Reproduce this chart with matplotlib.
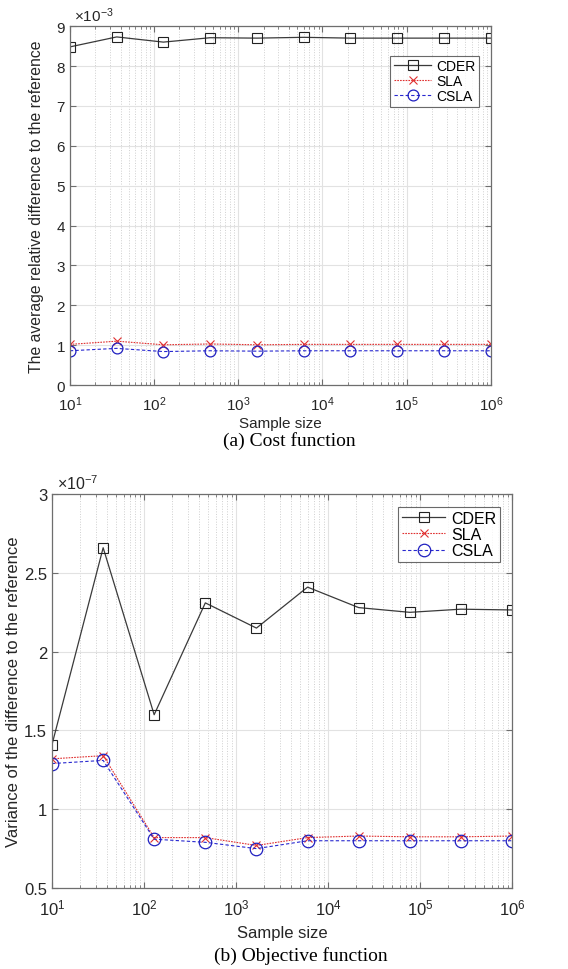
import matplotlib
matplotlib.use("Agg")
import matplotlib.pyplot as plt
from matplotlib.ticker import FuncFormatter, LogLocator, NullFormatter

plt.rcParams["font.family"] = ["Liberation Sans", "DejaVu Sans"]
plt.rcParams["mathtext.default"] = "regular"

# sample sizes (x axis, log scale)
sample_size = [10, 36, 129, 464, 1668, 5995, 21544, 77426, 278256, 1000000]

# (a) cost function: average relative difference to the reference
cost_cder = [8.48e-3, 8.73e-3, 8.60e-3, 8.71e-3, 8.70e-3, 8.72e-3, 8.70e-3, 8.70e-3, 8.70e-3, 8.70e-3]
cost_sla = [1.02e-3, 1.10e-3, 1.01e-3, 1.03e-3, 1.01e-3, 1.02e-3, 1.02e-3, 1.02e-3, 1.02e-3, 1.02e-3]
cost_csla = [0.86e-3, 0.92e-3, 0.84e-3, 0.86e-3, 0.85e-3, 0.86e-3, 0.86e-3, 0.86e-3, 0.86e-3, 0.86e-3]

# (b) objective function: variance of the difference to the reference
obj_cder = [1.41e-7, 2.66e-7, 1.60e-7, 2.31e-7, 2.15e-7, 2.41e-7, 2.28e-7, 2.25e-7, 2.27e-7, 2.265e-7]
obj_sla = [1.32e-7, 1.34e-7, 0.82e-7, 0.82e-7, 0.77e-7, 0.82e-7, 0.83e-7, 0.825e-7, 0.825e-7, 0.83e-7]
obj_csla = [1.29e-7, 1.31e-7, 0.81e-7, 0.79e-7, 0.75e-7, 0.80e-7, 0.80e-7, 0.80e-7, 0.80e-7, 0.80e-7]

series_names = ["CDER", "SLA", "CSLA"]
axis_col = "#6e6e6e"
text_col = "#262626"


def style_axes(ax, scale, yticks, fs):
    ax.set_xscale("log")
    ax.set_xlim(10, 1e6)
    ax.xaxis.set_major_locator(LogLocator(base=10, numticks=10))
    ax.xaxis.set_minor_locator(LogLocator(base=10, subs=range(2, 10), numticks=20))
    ax.xaxis.set_minor_formatter(NullFormatter())
    ax.set_yticks(yticks)
    ax.yaxis.set_major_formatter(FuncFormatter(lambda v, p: f"{v / scale:g}"))
    ax.set_ylim(yticks[0], yticks[-1])
    ax.grid(True, which="major", color="#e2e2e2", linewidth=0.8, linestyle="-")
    ax.grid(True, which="minor", axis="x", color="#cfcfcf", linewidth=0.7, linestyle=":")
    ax.set_axisbelow(True)
    ax.tick_params(which="both", direction="in", top=True, right=True,
                   color=axis_col, labelcolor=text_col, labelsize=fs)
    ax.tick_params(which="major", length=4)
    ax.tick_params(which="minor", length=2)
    ax.tick_params(axis="x", which="major", pad=7)
    for s in ax.spines.values():
        s.set_color(axis_col)
        s.set_linewidth(0.9)


def draw_series(ax, cder, sla, csla, ms):
    ax.plot(sample_size, cder, color="#3a3a3a", linewidth=0.9, marker="s",
            markersize=ms, markerfacecolor="none", markeredgecolor="#222222",
            markeredgewidth=0.8, label=series_names[0])
    ax.plot(sample_size, sla, color="#e03030", linewidth=0.8, linestyle=(0, (1.5, 1)),
            marker="x", markersize=ms * 0.8, markeredgewidth=0.8, label=series_names[1])
    ax.plot(sample_size, csla, color="#2828d0", linewidth=0.8, linestyle=(0, (3, 2)),
            marker="o", markersize=ms * 1.2, markerfacecolor="none",
            markeredgecolor="#2020c0", markeredgewidth=0.9, label=series_names[2])


def add_legend(ax, anchor, fs):
    leg = ax.legend(loc="upper right", bbox_to_anchor=anchor, fontsize=fs,
                    frameon=True, fancybox=False, handlelength=2.7, borderpad=0.25,
                    labelspacing=0.08, handletextpad=0.35, borderaxespad=0)
    leg.get_frame().set_edgecolor("#444444")
    leg.get_frame().set_linewidth(0.8)
    return leg


fig = plt.figure(figsize=(5.68, 9.70), dpi=100)

# (a) cost function
ax1 = fig.add_axes([0.123, 0.602, 0.741, 0.37])
draw_series(ax1, cost_cder, cost_sla, cost_csla, 6.5)
style_axes(ax1, 1e-3, [i * 1e-3 for i in range(10)], 11)
ax1.set_xlabel("Sample size", fontsize=11, color=text_col, labelpad=2)
ax1.set_ylabel("The average relative difference to the reference", fontsize=11.3,
               color=text_col, labelpad=9)
ax1.text(0.01, 1.006, r"$\times10^{-3}$", transform=ax1.transAxes, fontsize=11,
         color=text_col, ha="left", va="bottom")
add_legend(ax1, (0.972, 0.918), 10)
fig.text(0.51, 0.545, "(a) Cost function", family=["Liberation Serif"],
         fontsize=14, ha="center", va="center")

# (b) objective function
ax2 = fig.add_axes([0.0915, 0.0835, 0.81, 0.406])
draw_series(ax2, obj_cder, obj_sla, obj_csla, 7.5)
style_axes(ax2, 1e-7, [0.5e-7, 1e-7, 1.5e-7, 2e-7, 2.5e-7, 3e-7], 12)
ax2.set_xlabel("Sample size", fontsize=12, color=text_col, labelpad=5)
ax2.set_ylabel("Variance of the difference to the reference", fontsize=12,
               color=text_col, labelpad=2)
ax2.text(0.01, 1.006, r"$\times10^{-7}$", transform=ax2.transAxes, fontsize=11.5,
         color=text_col, ha="left", va="bottom")
add_legend(ax2, (0.974, 0.968), 11.5)
fig.text(0.53, 0.014, "(b) Objective function", family=["Liberation Serif"],
         fontsize=14, ha="center", va="center")

fig.savefig("out.png", dpi=100, facecolor="white")
